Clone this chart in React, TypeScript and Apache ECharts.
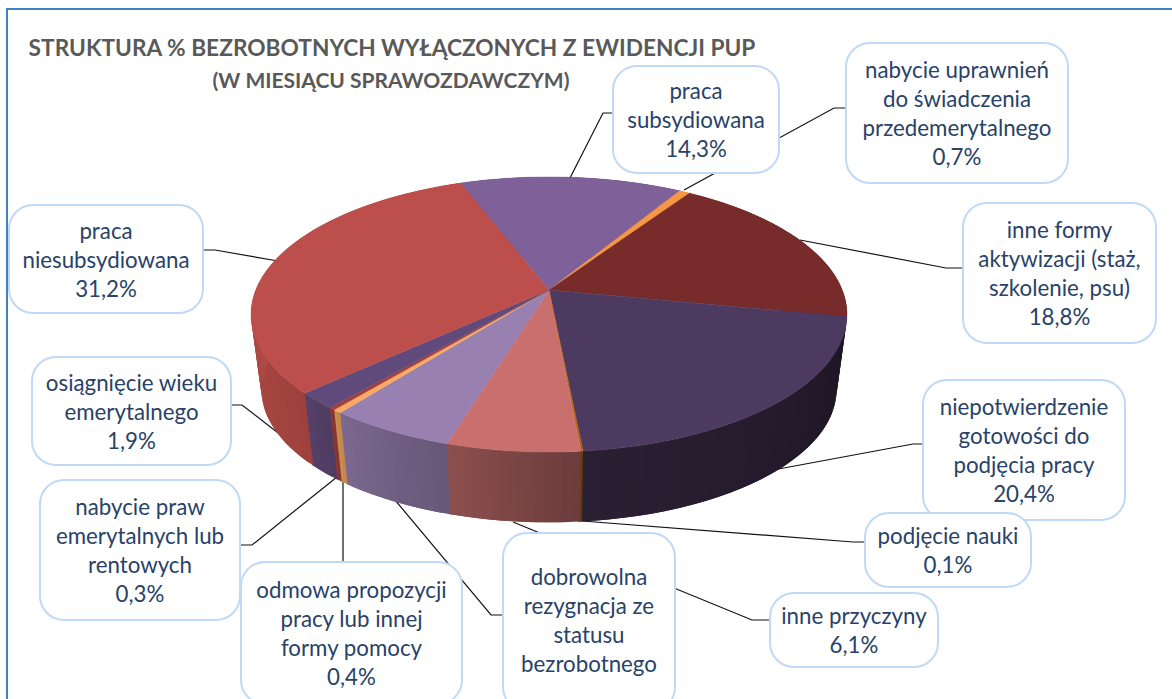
import React, { useEffect, useRef } from "react";
import * as echarts from "echarts";

const categories = [
  "praca\nsubsydiowana",
  "nabycie uprawnień\ndo świadczenia\nprzedemerytalnego",
  "inne formy\naktywizacji (staż,\nszkolenie, psu)",
  "niepotwierdzenie\ngotowości do\npodjęcia pracy",
  "podjęcie nauki",
  "inne przyczyny",
  "dobrowolna\nrezygnacja ze\nstatusu\nbezrobotnego",
  "odmowa propozycji\npracy lub innej\nformy pomocy",
  "nabycie praw\nemerytalnych lub\nrentowych",
  "osiągnięcie wieku\nemerytalnego",
  "praca\nniesubsydiowana",
];
const values = [14.3, 0.7, 18.8, 20.4, 0.1, 6.1, 5.8, 0.4, 0.3, 1.9, 31.2];
const percentCutOff = [false, false, false, false, false, false, true, false, false, false, false];

const topColors = ["#7F6199", "#F79646", "#772B2A", "#4D3A60", "#B86410", "#C96F6D", "#9880B0", "#F9A964", "#A03F3C", "#604A7B", "#BC4F4B"];
const wallFrom = ["#5F4A78", "#B8702F", "#5A201F", "#2A2033", "#6F3D10", "#8C504E", "#7C688E", "#C98F55", "#8E3733", "#554069", "#B44C48"];
const wallTo = ["#5F4A78", "#B8702F", "#5A201F", "#1D1524", "#663408", "#6B3C3C", "#665778", "#C08548", "#85332F", "#4E3C60", "#9E413C"];

const title = "STRUKTURA % BEZROBOTNYCH WYŁĄCZONYCH Z EWIDENCJI PUP";
const subtitle = "(W MIESIĄCU SPRAWOZDAWCZYM)";

// annotation layout: box [x, y, w, h], leader polyline
const boxes = [
  [613, 66, 166, 107], [846, 43, 222, 140], [963, 203, 193, 140], [923, 380, 202, 140],
  [865, 513, 166, 74], [770, 593, 168, 74], [503, 533, 172, 178], [241, 562, 221, 142],
  [40, 480, 200, 140], [32, 357, 199, 108], [9, 205, 194, 108],
];
const leaders = [
  [[570, 178], [603, 113], [613, 113]],
  [[684, 190], [834, 108], [846, 108]],
  [[800, 240], [946, 268], [963, 268]],
  [[773, 470], [913, 444], [923, 444]],
  [[582, 521], [853, 542], [865, 542]],
  [[513, 522], [752, 620], [770, 620]],
  [[395, 500], [491, 615], [503, 615]],
  [[343, 478], [343, 562]],
  [[337, 477], [252, 545], [240, 545]],
  [[322, 467], [242, 405], [231, 405]],
  [[278, 261], [215, 250], [203, 250]],
];

// projection of the pie disc
const CX = 549, CY = 290, A = 133.2, B = 293.2, K = 0.178;
const START = -20.6, BOTTOM_Y = 366, BOTTOM_S = 0.965;
const total = values.reduce((a, b) => a + b, 0);

function project(deg: number) {
  const r = (deg * Math.PI) / 180;
  const x = Math.sin(r), y = -Math.cos(r);
  const d = 1 - K * y;
  return [(B * x) / d, (A * y) / d];
}
function arc(from: number, to: number, ox: number, oy: number, s: number) {
  const n = Math.max(2, Math.ceil((to - from) / 1.5));
  const pts: number[][] = [];
  for (let i = 0; i <= n; i++) {
    const p = project(from + ((to - from) * i) / n);
    pts.push([ox + s * p[0], oy + s * p[1]]);
  }
  return pts;
}
function sliceRange(i: number) {
  let acc = 0;
  for (let j = 0; j < i; j++) acc += values[j];
  const a0 = START + (acc / total) * 360;
  return [a0, a0 + (values[i] / total) * 360];
}

export default function App() {
  const ref = useRef<HTMLDivElement>(null);
  useEffect(() => {
    document.body.style.margin = "0";
    const chart = echarts.init(ref.current!, undefined, { renderer: "svg" });
    const font = "Lato, 'Open Sans', sans-serif";
    const graphic: any[] = [
      { type: "rect", shape: { x: 7, y: 9, width: 1400, height: 1000 }, style: { fill: "none", stroke: "#4180BE", lineWidth: 2 } },
      { type: "text", style: { text: title, x: 392, y: 47, align: "center", verticalAlign: "middle", font: `bold 22.7px ${font}`, fill: "#595959" } },
      { type: "text", style: { text: subtitle, x: 391, y: 79, align: "center", verticalAlign: "middle", font: `bold 21px ${font}`, fill: "#595959" } },
    ];
    leaders.forEach((pts) => {
      graphic.push({ type: "polyline", shape: { points: pts }, style: { fill: "none", stroke: "#111111", lineWidth: 1.2 } });
    });
    boxes.forEach((b, i) => {
      graphic.push({
        type: "rect",
        shape: { x: b[0], y: b[1], width: b[2], height: b[3], r: 24 },
        style: { fill: "#FFFFFF", stroke: "#BFD9F7", lineWidth: 2 },
      });
      const text = percentCutOff[i]
        ? categories[i]
        : `${categories[i]}\n${values[i].toFixed(1).replace(".", ",")}%`;
      const lines = text.split("\n").length;
      const cy = percentCutOff[i] ? 620 : b[1] + b[3] / 2;
      graphic.push({
        type: "text",
        style: {
          text,
          x: b[0] + b[2] / 2,
          y: cy - (lines * 29) / 2,
          align: "center",
          verticalAlign: "top",
          lineHeight: 29,
          font: `22.3px ${font}`,
          fill: "#284268",
        },
      });
    });
    const option: any = {
      animation: false,
      backgroundColor: "#FFFFFF",
      graphic,
      series: [
        {
          type: "custom",
          coordinateSystem: "none",
          silent: true,
          data: values,
          renderItem: (params: any) => {
            const i = params.dataIndex;
            const [a0, a1] = sliceRange(i);
            // walls overlap the next segment a little so no seam shows between them
            const end = a1 + 0.3;
            const top = arc(a0, end, CX, CY, 1);
            const bottom = arc(a0, end, CX, BOTTOM_Y, BOTTOM_S);
            const v0 = Math.max(a0, 80);
            const v1 = Math.min(a1, 280);
            const children: any[] = [];
            const last = top.length - 1;
            for (let k = 0; k < last; k++) {
              const mid = a0 + ((end - a0) * (k + 0.5)) / last;
              const t = v1 > v0 ? Math.min(1, Math.max(0, 1 - (mid - v0) / (v1 - v0))) : 0;
              const c = echarts.color.lerp(t, [wallFrom[i], wallTo[i]]);
              const n = Math.min(k + 2, last);
              children.push({
                type: "polygon",
                shape: { points: [top[k], top[n], bottom[n], bottom[k]] },
                style: { fill: c },
              });
            }
            return { type: "group", children };
          },
        },
        {
          type: "custom",
          coordinateSystem: "none",
          silent: true,
          data: values,
          renderItem: (params: any) => {
            const i = params.dataIndex;
            const [a0, a1] = sliceRange(i);
            return {
              type: "polygon",
              shape: { points: [[CX, CY]].concat(arc(a0, a1, CX, CY, 1)) },
              style: { fill: topColors[i], stroke: topColors[i], lineWidth: 0.4 },
            };
          },
        },
      ],
    };
    chart.setOption(option);
    return () => chart.dispose();
  }, []);
  return <div ref={ref} style={{ position: "fixed", left: 0, top: 0, width: 1172, height: 699 }} />;
}
